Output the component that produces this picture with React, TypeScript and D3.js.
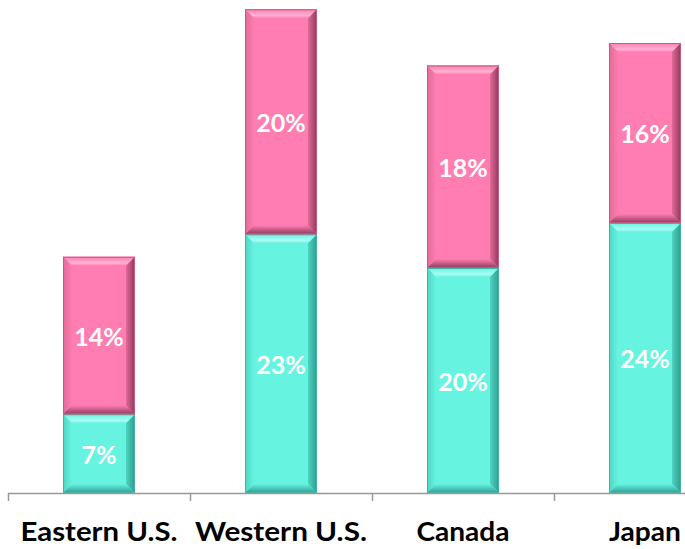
import React from "react";
import * as d3 from "d3";

const categories = ["Eastern U.S.", "Western U.S.", "Canada", "Japan"];
const bottomValues = [7, 23, 20, 24];
const topValues = [14, 20, 18, 16];
const labelWidths = [157, 172, 93, 72];

const W = 685;
const H = 549;

export default function App() {
  const baseY = 493;
  const x = d3.scaleBand<string>().domain(categories).range([8, 8 + 182 * 4]).paddingInner(0).paddingOuter(0);
  const y = d3.scaleLinear().domain([0, 43]).range([baseY, baseY - 43 * 11.25]);
  const barW = 72;
  const b = 9;

  const series = [
    { key: "bottom", face: "#66F4E1", light: "#A8FCF2", dark: "#2E9C8E", side: "#4FD4C2", stroke: "#3FB3A4", grad: "gT" },
    { key: "top", face: "#FF7DB0", light: "#FFB2D3", dark: "#8E3A5B", side: "#E26A98", stroke: "#C45A84", grad: "gP" },
  ];

  const bevel = (bx: number, by: number, w: number, h: number, s: any, i: number) => {
    const pts = (a: number[][]) => a.map((p) => p.join(",")).join(" ");
    return (
      <g key={s.key + i}>
        <rect x={bx} y={by} width={w} height={h} fill={s.face} />
        <polygon points={pts([[bx, by], [bx + w, by], [bx + w - b, by + b], [bx + b, by + b]])} fill={`url(#${s.grad}Top)`} />
        <polygon points={pts([[bx, by], [bx + b, by + b], [bx + b, by + h - b], [bx, by + h]])} fill={`url(#${s.grad}Left)`} />
        <polygon points={pts([[bx + w, by], [bx + w - b, by + b], [bx + w - b, by + h - b], [bx + w, by + h]])} fill={`url(#${s.grad}Right)`} />
        <polygon points={pts([[bx, by + h], [bx + w, by + h], [bx + w - b, by + h - b], [bx + b, by + h - b]])} fill={`url(#${s.grad}Bot)`} />
        <rect x={bx + 0.5} y={by + 0.5} width={w - 1} height={h - 1} fill="none" stroke={s.stroke} strokeWidth={1} />
      </g>
    );
  };

  const grads = series.map((s) => (
    <React.Fragment key={s.grad}>
      <linearGradient id={`${s.grad}Top`} x1="0" y1="0" x2="0" y2="1">
        <stop offset="0" stopColor={s.face} />
        <stop offset="0.7" stopColor={s.light} />
        <stop offset="1" stopColor={s.face} />
      </linearGradient>
      <linearGradient id={`${s.grad}Left`} x1="0" y1="0" x2="1" y2="0">
        <stop offset="0" stopColor={s.side} />
        <stop offset="1" stopColor={s.face} />
      </linearGradient>
      <linearGradient id={`${s.grad}Right`} x1="0" y1="0" x2="1" y2="0">
        <stop offset="0" stopColor={s.side} />
        <stop offset="1" stopColor={s.dark} />
      </linearGradient>
      <linearGradient id={`${s.grad}Bot`} x1="0" y1="0" x2="0" y2="1">
        <stop offset="0" stopColor={s.face} />
        <stop offset="1" stopColor={s.dark} />
      </linearGradient>
    </React.Fragment>
  ));

  const ticks = [0, 1, 2, 3, 4].map((k) => 8 + 182 * k);

  return (
    <svg width={W} height={H} style={{ position: "absolute", left: 0, top: 0, background: "#fff" }}>
      <defs>{grads}</defs>
      {categories.map((c, i) => {
        const cx = (x(c) as number) + x.bandwidth() / 2;
        const bx = cx - barW / 2;
        const v0 = bottomValues[i];
        const v1 = topValues[i];
        const yb = y(v0);
        const yt = y(v0 + v1);
        return (
          <g key={c}>
            {bevel(bx, yb, barW, baseY - yb, series[0], i)}
            {bevel(bx, yt, barW, yb - yt, series[1], i)}
            <text x={cx} y={(yb + baseY) / 2 + 10} textAnchor="middle" fill="#fff" fontFamily="Lato" fontWeight="bold" fontSize={25}>{v0}%</text>
            <text x={cx} y={(yt + yb) / 2 + 10} textAnchor="middle" fill="#fff" fontFamily="Lato" fontWeight="bold" fontSize={25}>{v1}%</text>
            <text x={cx} y={541} textAnchor="middle" fill="#000" fontFamily="Lato" fontWeight="bold" fontSize={27} textLength={labelWidths[i]} lengthAdjust="spacingAndGlyphs">{c}</text>
          </g>
        );
      })}
      <line x1={8} x2={W} y1={baseY + 0.5} y2={baseY + 0.5} stroke="#999" strokeWidth={1.5} />
      {ticks.map((t) => (
        <line key={t} x1={t + 0.5} x2={t + 0.5} y1={baseY} y2={baseY + 8} stroke="#999" strokeWidth={1.5} />
      ))}
    </svg>
  );
}
